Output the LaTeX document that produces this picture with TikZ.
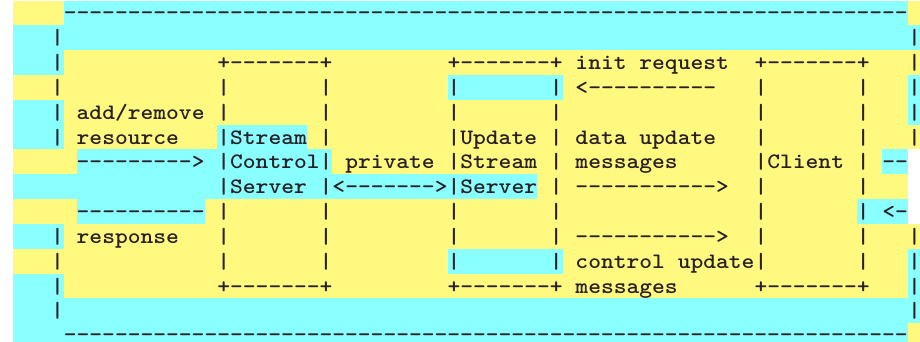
\documentclass[tikz,border=0pt]{standalone}
\usepackage{fontspec}
\setmonofont{lmmonolt10-bold.otf}[FakeStretch=1.107]
\definecolor{hlyellow}{RGB}{255,249,128}
\definecolor{hlcyan}{RGB}{138,255,255}
\definecolor{ink}{RGB}{40,32,36}
\tikzset{
  ascii/.style={anchor=base west, inner sep=0pt, outer sep=0pt, text=ink,
    font=\ttfamily\fontsize{22}{22}\selectfont},
}
% character grid: column g, row r (y grows downwards)
\newcommand\gx[1]{(51.1+12.79*(#1))}
\newcommand\gy[1]{(20+24.83*(#1))}
\newcommand\rtop[1]{(0.5+24.83*(#1))}

\begin{document}
\begin{tikzpicture}[x=1pt, y=-1pt]
  \useasboundingbox (0,0) rectangle (920,342);

  % highlighted line backgrounds
  \foreach \r/\ga/\gb/\hl in {
      0/-3/1/hlyellow, 0/1/67/hlcyan, 0/67/68/hlyellow,
      1/-3/68/hlcyan,
      2/-3/1/hlcyan, 2/1/68/hlyellow,
      3/-3/67/hlyellow, 3/31/40/hlcyan, 3/67/68/hlcyan,
      4/-3/1/hlcyan, 4/1/67/hlyellow, 4/67/68/hlcyan,
      5/-3/1/hlcyan, 5/1/13/hlyellow, 5/13/20/hlcyan, 5/20/68/hlyellow,
      6/-3/2/hlyellow, 6/2/22/hlcyan, 6/22/65/hlyellow, 6/65/67/hlcyan,
      7/-3/38/hlcyan, 7/38/67/hlyellow,
      8/-3/2/hlyellow, 8/2/12/hlcyan, 8/12/63/hlyellow, 8/63/67/hlcyan,
      9/-3/1/hlcyan, 9/1/68/hlyellow,
      10/-3/67/hlyellow, 10/31/40/hlcyan, 10/67/68/hlcyan,
      11/-3/1/hlcyan, 11/1/67/hlyellow, 11/67/68/hlcyan,
      12/-3/68/hlcyan,
      13/-3/67/hlcyan, 13/67/68/hlyellow}
    \fill[\hl] ({\gx{\ga}}, {max(1,\rtop{\r})}) rectangle ({\gx{\gb}}, {min(342,\rtop{\r+1})});

  % outer frame
  \node[ascii] (top) at ({\gx{1}}, {\gy{0}}) {------------------------------------------------------------------};
  \node[ascii] (bottom) at ({\gx{1}}, {\gy{13}-1.5}) {------------------------------------------------------------------};
  \foreach \r in {1,2,3,4,5,9,10,11,12} {
    \node[ascii] (left-\r) at ({\gx{0}}, {\gy{\r}}) {|};
    \node[ascii] (right-\r) at ({\gx{67}}, {\gy{\r}}) {|};
  }

  % the three boxes
  \foreach \r in {2,11}
    \foreach \g/\b in {13/ctl,31/upd,55/cli}
      \node[ascii] (\b-edge-\r) at ({\gx{\g}}, {\gy{\r}}) {+-------+};
  \foreach \r in {3,...,10}
    \foreach \g in {13,21,31,39,55,63}
      \node[ascii] (bar-\r-\g) at ({\gx{\g}}, {\gy{\r}}) {|};

  % Stream Control Server
  \node[ascii] (ctl1) at ({\gx{14}}, {\gy{5}}) {Stream};
  \node[ascii] (ctl2) at ({\gx{14}}, {\gy{6}}) {Control};
  \node[ascii] (ctl3) at ({\gx{14}}, {\gy{7}}) {Server};

  % Update Stream Server
  \node[ascii] (upd1) at ({\gx{32}}, {\gy{5}}) {Update};
  \node[ascii] (upd2) at ({\gx{32}}, {\gy{6}}) {Stream};
  \node[ascii] (upd3) at ({\gx{32}}, {\gy{7}}) {Server};

  % Client
  \node[ascii] (client) at ({\gx{56}}, {\gy{6}}) {Client};

  % left side requests
  \node[ascii] (addrm) at ({\gx{2}}, {\gy{4}}) {add/remove};
  \node[ascii] (resource) at ({\gx{2}}, {\gy{5}}) {resource};
  \node[ascii] (reqarrow) at ({\gx{2}}, {\gy{6}}) {--------->};
  \node[ascii] (resparrow) at ({\gx{2}}, {\gy{8}}) {----------};
  \node[ascii] (response) at ({\gx{2}}, {\gy{9}}) {response};

  % private link
  \node[ascii] (private) at ({\gx{23}}, {\gy{6}}) {private};
  \node[ascii] (privarrow) at ({\gx{22}}, {\gy{7}}) {<------->};

  % messages to and from the client
  \node[ascii] (init) at ({\gx{41}}, {\gy{2}}) {init request};
  \node[ascii] (initarrow) at ({\gx{41}}, {\gy{3}}) {<----------};
  \node[ascii] (data1) at ({\gx{41}}, {\gy{5}}) {data update};
  \node[ascii] (data2) at ({\gx{41}}, {\gy{6}}) {messages};
  \node[ascii] (dataarrow) at ({\gx{41}}, {\gy{7}}) {----------->};
  \node[ascii] (ctlarrow) at ({\gx{41}}, {\gy{9}}) {----------->};
  \node[ascii] (ctlmsg1) at ({\gx{41}}, {\gy{10}}) {control update};
  \node[ascii] (ctlmsg2) at ({\gx{41}}, {\gy{11}}) {messages};

  % right edge
  \node[ascii] (outarrow) at ({\gx{65}}, {\gy{6}}) {--};
  \node[ascii] (inarrow) at ({\gx{65}}, {\gy{8}}) {<-};
\end{tikzpicture}
\end{document}
